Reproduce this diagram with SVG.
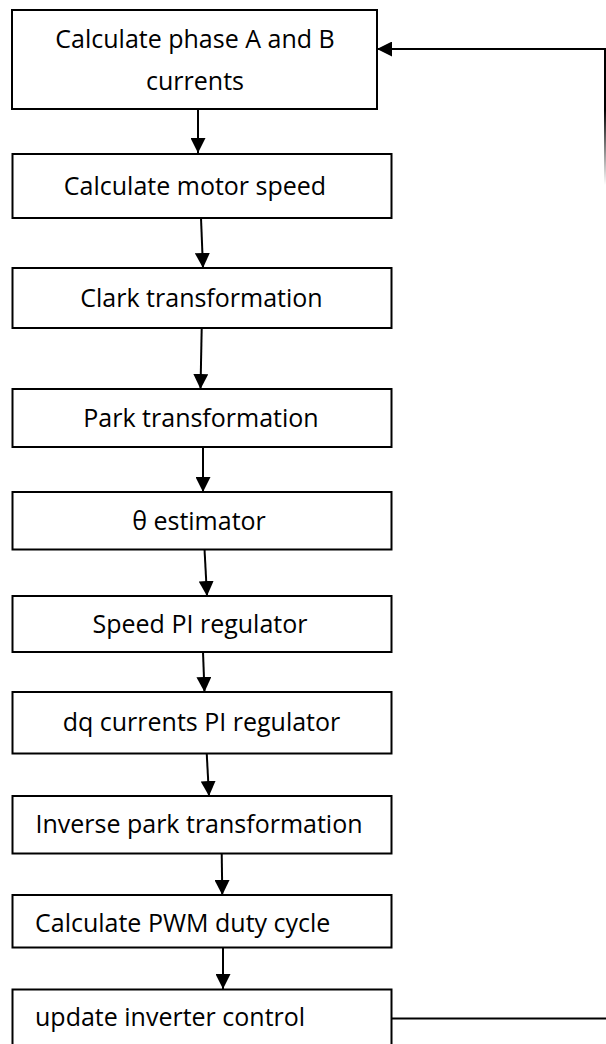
<svg xmlns="http://www.w3.org/2000/svg" width="606" height="1044" viewBox="0 0 606 1044">
<style>
.box{fill:#fff;stroke:#000;stroke-width:2}
.lbl{font-family:"Open Sans","Liberation Sans",sans-serif;font-size:25px;fill:#000;text-anchor:middle}
.lft{text-anchor:start}
.con{fill:none;stroke:#000;stroke-width:2}
</style>
<defs>
<marker id="ah" markerUnits="userSpaceOnUse" markerWidth="15" markerHeight="15" refX="15" refY="7.5" orient="auto">
<path d="M0,0 L15,7.5 L0,15 z" fill="#000"/>
</marker>
<linearGradient id="fade" gradientUnits="userSpaceOnUse" x1="0" y1="110" x2="0" y2="185">
<stop offset="0" stop-color="#000"/>
<stop offset="1" stop-color="#000" stop-opacity="0"/>
</linearGradient>
</defs>
<rect width="606" height="1044" fill="#fff"/>
<g id="connectors">
<line class="con" x1="198" y1="109" x2="198" y2="153" marker-end="url(#ah)"/>
<line class="con" x1="201" y1="218" x2="203" y2="268" marker-end="url(#ah)"/>
<line class="con" x1="201.7" y1="328" x2="200.5" y2="389" marker-end="url(#ah)"/>
<line class="con" x1="203" y1="447" x2="203" y2="492" marker-end="url(#ah)"/>
<line class="con" x1="204.5" y1="549" x2="207" y2="596" marker-end="url(#ah)"/>
<line class="con" x1="203" y1="652" x2="204.5" y2="692" marker-end="url(#ah)"/>
<line class="con" x1="206.7" y1="753" x2="209" y2="796" marker-end="url(#ah)"/>
<line class="con" x1="221.7" y1="853" x2="222.3" y2="895" marker-end="url(#ah)"/>
<line class="con" x1="223" y1="947" x2="223" y2="989" marker-end="url(#ah)"/>
<line class="con" x1="391" y1="1018.5" x2="606" y2="1018.5"/>
<line x1="605" y1="48" x2="605" y2="185" stroke="url(#fade)" stroke-width="2"/>
<line class="con" x1="606" y1="49" x2="377" y2="49" marker-end="url(#ah)"/>
</g>
<g id="n1"><rect class="box" x="12" y="10" width="365" height="99"/><text class="lbl" x="195" y="48">Calculate phase A and B</text><text class="lbl" x="195" y="90">currents</text></g>
<g id="n2"><rect class="box" x="12.5" y="154" width="379" height="64"/><text class="lbl" x="195" y="195">Calculate motor speed</text></g>
<g id="n3"><rect class="box" x="12.5" y="268" width="379" height="60"/><text class="lbl" x="201.5" y="307">Clark transformation</text></g>
<g id="n4"><rect class="box" x="12.5" y="389" width="379" height="58"/><text class="lbl" x="201" y="427">Park transformation</text></g>
<g id="n5"><rect class="box" x="12.5" y="492" width="379" height="57.5"/><text class="lbl" x="199" y="530">θ estimator</text></g>
<g id="n6"><rect class="box" x="12.5" y="596" width="379" height="56"/><text class="lbl" x="200" y="633">Speed PI regulator</text></g>
<g id="n7"><rect class="box" x="12.5" y="692" width="379" height="61.5"/><text class="lbl" x="201.5" y="731">dq currents PI regulator</text></g>
<g id="n8"><rect class="box" x="12.5" y="796" width="379" height="57.5"/><text class="lbl" x="199" y="833">Inverse park transformation</text></g>
<g id="n9"><rect class="box" x="12.5" y="895" width="379" height="52.5"/><text class="lbl lft" x="35" y="932">Calculate PWM duty cycle</text></g>
<g id="n10"><rect class="box" x="12.5" y="989.5" width="379" height="60"/><text class="lbl lft" x="35" y="1026">update inverter control</text></g>
</svg>
